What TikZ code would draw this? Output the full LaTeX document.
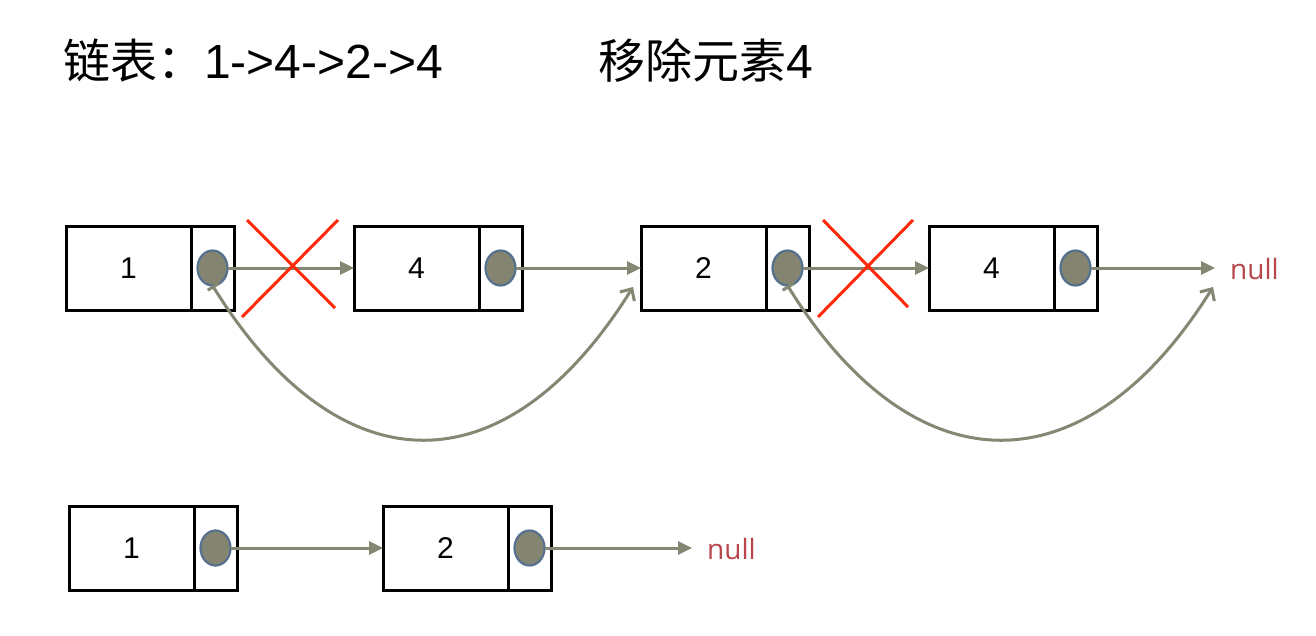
\documentclass[tikz,border=0pt]{standalone}
\usepackage{fontspec}
\setmainfont{Liberation Sans}
\newfontfamily\cjk{Noto Sans CJK SC}
\newfontfamily\nilfont{Open Sans}
\usetikzlibrary{arrows.meta,shapes.geometric}
\definecolor{arrowgray}{HTML}{858773}
\definecolor{dotfill}{HTML}{838571}
\definecolor{dotedge}{HTML}{55718F}
\definecolor{crossred}{HTML}{FF2A0A}
\definecolor{nullred}{HTML}{B8464B}
\tikzset{
  databox/.style={draw, line width=3pt, outer sep=0pt, minimum width=125pt, minimum height=84pt, inner sep=0pt, font=\fontsize{30}{30}\selectfont},
  ptrbox/.style={draw, line width=3pt, outer sep=0pt, minimum width=43pt, minimum height=84pt, inner sep=0pt, anchor=west},
  ptrdot/.style={ellipse, draw=dotedge, fill=dotfill, line width=2.2pt, outer sep=0pt, minimum width=30pt, minimum height=35pt, inner sep=0pt},
  link/.style={draw=arrowgray, line width=3pt, -{Triangle[length=14pt,width=13pt]}},
  bypass/.style={draw=arrowgray, line width=3pt, {Bar[width=13pt]}-{Straight Barb[length=9pt,width=17pt]}},
  crossline/.style={draw=crossred, line width=3pt},
  nulltext/.style={text=nullred, font=\nilfont\fontsize{28}{28}\selectfont, anchor=west, inner sep=0pt},
  title/.style={anchor=base west, inner sep=0pt},
}
\begin{document}
\begin{tikzpicture}[x=1pt,y=-1pt]
\fill[white] (0,0) rectangle (1316,635);
\useasboundingbox (0,0) rectangle (1316,635);

% titles
\node[title, font=\fontsize{47}{47}\selectfont] (t1) at (63,78) {{\cjk 链表：}{\fontsize{48}{48}\selectfont 1->4->2->4}};
\node[title, font=\fontsize{47}{47}\selectfont] (t2) at (598,78) {{\cjk 移除元素}{\fontsize{48}{48}\selectfont 4}};

% top row
\node[databox] (a1) at (128.5,268) {1};
\node[ptrbox] (a1p) at (a1.east) {};
\node[databox] (a2) at (416.5,268) {4};
\node[ptrbox] (a2p) at (a2.east) {};
\node[databox] (a3) at (703.5,268) {2};
\node[ptrbox] (a3p) at (a3.east) {};
\node[databox] (a4) at (991.5,268) {4};
\node[ptrbox] (a4p) at (a4.east) {};
\node[nulltext] (anull) at (1230,269) {null};

% bottom row
\node[databox] (b1) at (131.5,548) {1};
\node[ptrbox] (b1p) at (b1.east) {};
\node[databox] (b2) at (445.5,548) {2};
\node[ptrbox] (b2p) at (b2.east) {};
\node[nulltext] (bnull) at (707,549) {null};

% dots
\node[ptrdot] (a1d) at (a1p.center) {};
\node[ptrdot] (a2d) at (a2p.center) {};
\node[ptrdot] (a3d) at (a3p.center) {};
\node[ptrdot] (a4d) at (a4p.center) {};
\node[ptrdot] (b1d) at (b1p.center) {};
\node[ptrdot] (b2d) at (b2p.center) {};

% straight links
\draw[link] (a1d.east) -- (a2.west);
\draw[link] (a2d.east) -- (a3.west);
\draw[link] (a3d.east) -- (a4.west);
\coordinate (anullin) at (1215,268);
\draw[link] (a4d.east) -- (anullin);
\draw[link] (b1d.east) -- (b2.west);
\coordinate (bnullin) at (692,548);
\draw[link] (b2d.east) -- (bnullin);

% bypass curves
\coordinate (e1) at (633,287);
\coordinate (e2) at (1213,287);
\draw[bypass] (a1d.south) .. controls +(127,205) and +(-127,204) .. (e1);
\draw[bypass] (a3d.south) .. controls +(127,205) and +(-127,204) .. (e2);

% crosses
\draw[crossline] (247,220) -- (335,308);
\draw[crossline] (338,220) -- (242,317);
\draw[crossline] (823,220) -- (908,307);
\draw[crossline] (913,220) -- (818,317);
\end{tikzpicture}
\end{document}
